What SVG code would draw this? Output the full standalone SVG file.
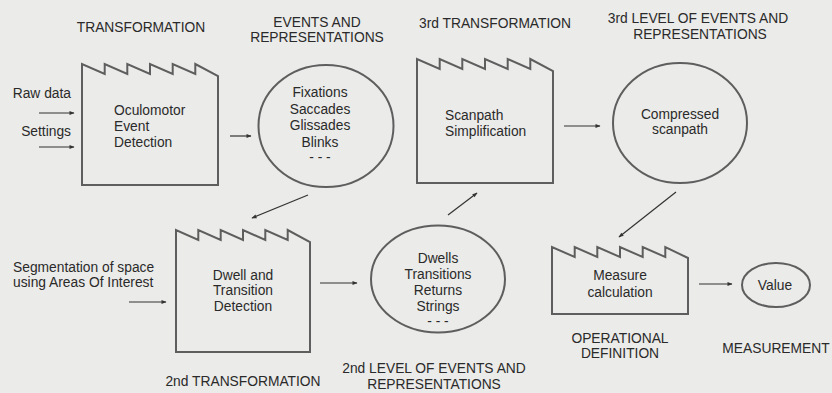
<svg xmlns="http://www.w3.org/2000/svg" width="832" height="393" viewBox="0 0 832 393">
<defs>
<marker id="ah" viewBox="0 0 10 10" refX="9" refY="5" markerWidth="7" markerHeight="5" markerUnits="userSpaceOnUse" orient="auto">
<path d="M0,1 L10,5 L0,9 Z" fill="#333"/>
</marker>
</defs>
<style>
text{font-family:"Liberation Sans",Arial,Helvetica,sans-serif;font-size:13.8px;fill:#2a2a2a}
.c{text-anchor:middle}
.r{text-anchor:end}
.shape{fill:none;stroke:#5e5e5e;stroke-width:2;stroke-linejoin:miter}
.arr{fill:none;stroke:#333;stroke-width:1.2;marker-end:url(#ah)}
</style>
<rect width="832" height="393" fill="#ebebe9"/>

<g id="inputs">
<text class="r" x="71" y="98">Raw data</text>
<text class="r" x="71" y="136">Settings</text>
<text x="13" y="272">Segmentation of space</text>
<text x="13" y="287">using Areas Of Interest</text>
</g>

<g id="f1">
<path class="shape" d="M82,185 L82,64 L104.7,74 L104.7,64 L127.3,74 L127.3,64 L150,74 L150,64 L172.7,74 L172.7,64 L195.3,74 L195.3,64 L218,76 L218,185 Z"/>
<text x="114" y="115">Oculomotor</text>
<text x="114" y="131">Event</text>
<text x="114" y="147">Detection</text>
<text class="c" x="141" y="32">TRANSFORMATION</text>
</g>

<g id="c1">
<ellipse class="shape" cx="326" cy="126" rx="67.5" ry="61"/>
<text class="c" x="320" y="97">Fixations</text>
<text class="c" x="320" y="114">Saccades</text>
<text class="c" x="320" y="130">Glissades</text>
<text class="c" x="320" y="147">Blinks</text>
<text class="c" x="320" y="162">- - -</text>
<text class="c" x="317" y="27">EVENTS AND</text>
<text class="c" x="317" y="42">REPRESENTATIONS</text>
</g>

<g id="f3">
<path class="shape" d="M417,183 L417,59 L439.7,69 L439.7,59 L462.3,69 L462.3,59 L485,69 L485,59 L507.7,69 L507.7,59 L530.3,69 L530.3,59 L553,71 L553,183 Z"/>
<text x="445" y="120">Scanpath</text>
<text x="445" y="136">Simplification</text>
<text class="c" x="495" y="28">3rd TRANSFORMATION</text>
</g>

<g id="c3">
<ellipse class="shape" cx="680" cy="123" rx="67" ry="60"/>
<text class="c" x="680" y="119">Compressed</text>
<text class="c" x="680" y="134">scanpath</text>
<text class="c" x="698" y="23">3rd LEVEL OF EVENTS AND</text>
<text class="c" x="700" y="39">REPRESENTATIONS</text>
</g>

<g id="f2">
<path class="shape" d="M176,352 L176,230 L198.3,240 L198.3,230 L220.7,240 L220.7,230 L243,240 L243,230 L265.3,240 L265.3,230 L287.7,240 L287.7,230 L310,242 L310,352 Z"/>
<text class="c" x="243" y="280">Dwell and</text>
<text class="c" x="243" y="295">Transition</text>
<text class="c" x="243" y="311">Detection</text>
<text class="c" x="243" y="386">2nd TRANSFORMATION</text>
</g>

<g id="c2">
<ellipse class="shape" cx="438" cy="279" rx="67" ry="53.5"/>
<text class="c" x="438" y="263">Dwells</text>
<text class="c" x="438" y="279">Transitions</text>
<text class="c" x="438" y="295">Returns</text>
<text class="c" x="438" y="311">Strings</text>
<text class="c" x="438" y="326">- - -</text>
<text class="c" x="434" y="373">2nd LEVEL OF EVENTS AND</text>
<text class="c" x="434" y="389">REPRESENTATIONS</text>
</g>

<g id="f4">
<path class="shape" d="M552,314 L552,247 L574.7,257 L574.7,247 L597.3,257 L597.3,247 L620,257 L620,247 L642.7,257 L642.7,247 L665.3,257 L665.3,247 L688,258 L688,314 Z"/>
<text class="c" x="620" y="280">Measure</text>
<text class="c" x="620" y="297">calculation</text>
<text class="c" x="620" y="343">OPERATIONAL</text>
<text class="c" x="620" y="358">DEFINITION</text>
</g>

<g id="value">
<ellipse class="shape" cx="776" cy="285" rx="34" ry="22"/>
<text class="c" x="775" y="290">Value</text>
<text class="c" x="776" y="353">MEASUREMENT</text>
</g>

<g id="connectors">
<line class="arr" x1="39" y1="113" x2="74" y2="113"/>
<line class="arr" x1="39" y1="147" x2="74" y2="147"/>
<line class="arr" x1="230" y1="136" x2="251" y2="136"/>
<line class="arr" x1="308" y1="195" x2="252" y2="218"/>
<line class="arr" x1="129" y1="302" x2="166" y2="302"/>
<line class="arr" x1="320" y1="283" x2="357" y2="283"/>
<line class="arr" x1="448" y1="215" x2="477" y2="193"/>
<line class="arr" x1="564" y1="126" x2="600" y2="126"/>
<line class="arr" x1="676" y1="192" x2="619" y2="237"/>
<line class="arr" x1="699" y1="284" x2="732" y2="284"/>
</g>
</svg>
